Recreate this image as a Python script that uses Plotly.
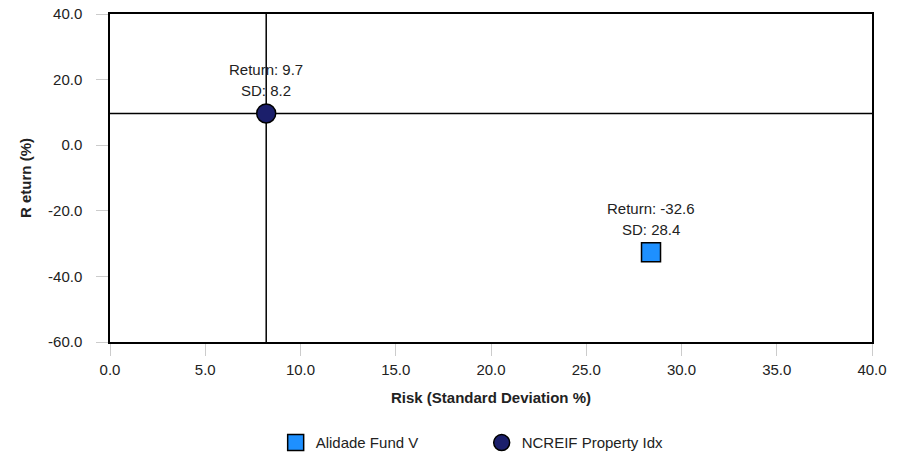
import plotly.graph_objects as go

series_names = ["Alidade Fund V", "NCREIF Property Idx"]
risk_sd = [28.4, 8.2]
returns = [-32.6, 9.7]
marker_symbols = ["square", "circle"]
marker_colors = ["#1E90FF", "#1B1F6B"]
x_ticks = [0, 5, 10, 15, 20, 25, 30, 35, 40]
y_ticks = [-60, -40, -20, 0, 20, 40]

FONT = "Liberation Sans, Arial, Helvetica, sans-serif"
FS = 15

fig = go.Figure()
for name, x, y, sym, col in zip(series_names, risk_sd, returns, marker_symbols, marker_colors):
    fig.add_trace(go.Scatter(
        x=[x], y=[y], mode="markers", name=name,
        marker=dict(symbol=sym, size=19, color=col, line=dict(color="black", width=1.5)),
    ))
    fig.add_annotation(x=x, y=y, text=f"Return: {y}", showarrow=False,
                       yshift=44, font=dict(size=FS, color="#222"))
    fig.add_annotation(x=x, y=y, text=f"SD: {x}", showarrow=False,
                       yshift=23, font=dict(size=FS, color="#222"))

# crosshair at benchmark (NCREIF)
bx, by = risk_sd[1], returns[1]
fig.add_shape(type="line", xref="x", yref="paper", x0=bx, x1=bx, y0=0, y1=1,
              line=dict(color="black", width=1.5), layer="below")
fig.add_shape(type="line", xref="paper", yref="y", x0=0, x1=1, y0=by, y1=by,
              line=dict(color="black", width=1.5), layer="below")

fig.update_layout(
    width=902, height=457,
    margin=dict(l=110, r=30, t=14, b=115),
    plot_bgcolor="white", paper_bgcolor="white",
    font=dict(family=FONT, size=FS, color="#222"),
    showlegend=True,
    legend=dict(orientation="h", x=0.534, xref="container", xanchor="center",
                y=0.031, yref="container", yanchor="middle",
                font=dict(size=FS), itemsizing="trace", traceorder="normal",
                entrywidth=161, entrywidthmode="pixels"),
    xaxis=dict(range=[0, 40], tickvals=x_ticks, ticktext=[f"{v:.1f}" for v in x_ticks],
               showgrid=False, zeroline=False, showline=True, linecolor="black", linewidth=1.5,
               mirror=True, ticks="outside", tickcolor="#cccccc", ticklen=12, tickwidth=1,
               ticklabelstandoff=1, automargin=False,
               title=dict(text="<b>Risk (Standard Deviation %)</b>", font=dict(size=FS), standoff=16)),
    yaxis=dict(range=[-60, 40], tickvals=y_ticks, ticktext=[f"{v:.1f}" for v in y_ticks],
               showgrid=False, zeroline=False, showline=True, linecolor="black", linewidth=1.5,
               mirror=True, ticks="outside", tickcolor="#cccccc", ticklen=12, tickwidth=1,
               ticklabelstandoff=11, automargin=False,
               title=dict(text="<b>R eturn (%)</b>", font=dict(size=FS), standoff=13)),
)
fig.write_html("out.html", config={"displayModeBar": False},
               post_script="document.body.style.margin='0';document.body.style.padding='0';")
